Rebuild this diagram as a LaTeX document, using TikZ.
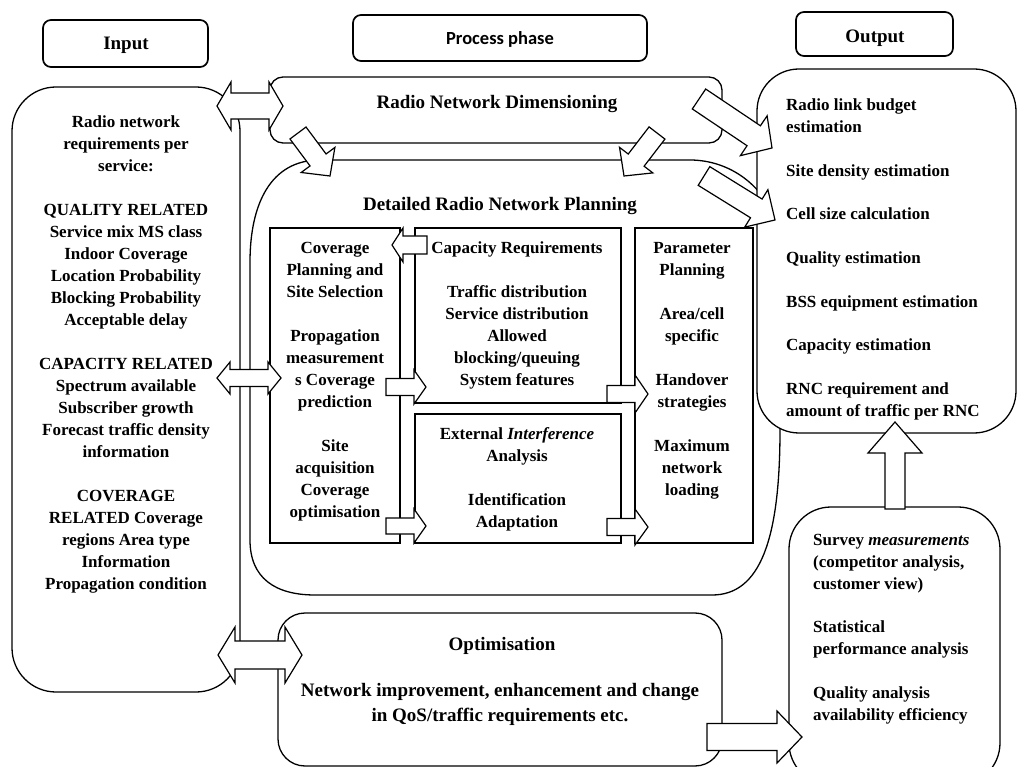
\documentclass[tikz,border=0pt]{standalone}
\usepackage{fontspec}
\setmainfont{Liberation Serif}
\newfontfamily\carlitofont{Carlito}
\usetikzlibrary{calc}
\tikzset{
 box/.style={draw=black, fill=white, line width=1.3pt},
 hdr/.style={draw=black, fill=white, line width=1.7pt, rounded corners=8pt},
 blk/.style={draw=black, fill=white, line width=1.2pt},
 tc/.style={font=\fontsize{17}{22}\selectfont\bfseries, inner sep=0pt, align=center, anchor=north},
 tl/.style={font=\fontsize{17}{21.8}\selectfont\bfseries, inner sep=0pt, align=left, anchor=north west},
 th/.style={font=\fontsize{19}{25}\selectfont\bfseries, inner sep=0pt, anchor=base},
}
% single block arrow: start, end, shaft half width, head half width, head length
\newcommand{\blkarrow}[5]{%
  \coordinate (ah) at ($(#2)!#5!(#1)$);
  \draw[blk] ($(#1)!#3!90:(#2)$) -- ($(ah)!#3!90:(#2)$) -- ($(ah)!#4!90:(#2)$) -- (#2)
    -- ($(ah)!#4!-90:(#2)$) -- ($(ah)!#3!-90:(#2)$) -- ($(#1)!#3!-90:(#2)$) -- cycle;}
% double block arrow
\newcommand{\dblarrow}[5]{%
  \coordinate (ha) at ($(#1)!#5!(#2)$);
  \coordinate (hb) at ($(#2)!#5!(#1)$);
  \draw[blk] (#1) -- ($(ha)!#4!90:(#2)$) -- ($(ha)!#3!90:(#2)$) -- ($(hb)!#3!90:(#2)$)
    -- ($(hb)!#4!90:(#2)$) -- (#2) -- ($(hb)!#4!-90:(#2)$) -- ($(hb)!#3!-90:(#2)$)
    -- ($(ha)!#3!-90:(#2)$) -- ($(ha)!#4!-90:(#2)$) -- cycle;}

\begin{document}
\begin{tikzpicture}[x=1pt,y=-1pt]
\useasboundingbox (0,0) rectangle (1018,767);
\fill[white] (0,0) rectangle (1018,767);

% Detailed radio network planning box
\draw[box] (320,160) -- (690,160) .. controls (738,160) and (780,198) .. (780,250) -- (780,430)
  .. controls (780,540) and (760,595) .. (712,595) -- (315,595)
  .. controls (275,595) and (250,578) .. (250,540) -- (250,262)
  .. controls (250,205) and (270,160) .. (320,160) -- cycle;

% inner boxes
\draw[box] (270,228) rectangle (400,543);
\draw[box] (415,228) rectangle (621,403);
\draw[box] (415,414) rectangle (621,543);
\draw[box] (635,228) rectangle (753,543);

% main boxes
\draw[box, rounded corners=13pt] (270,77) rectangle (722,143);
\draw[box, rounded corners=44pt] (12,87) rectangle (240,692);
\draw[box, rounded corners=42pt] (757,69) rectangle (1016,433);
\draw[box, rounded corners=27pt] (278,613) rectangle (722,766);
\draw[box, rounded corners=42pt] (789,507) rectangle (1000,785);

% header boxes
\draw[hdr] (43,20) rectangle (208,67);
\draw[hdr] (353,15) rectangle (647,61);
\draw[hdr] (796,12) rectangle (953,56);

% arrow end points
\coordinate (inTopL) at (217,106);  \coordinate (rndL) at (283,106);
\coordinate (inMidL) at (217,378);  \coordinate (covL) at (281,378);
\coordinate (inBotL) at (218,655);  \coordinate (optL) at (302,655);
\coordinate (rndA) at (298,133);    \coordinate (detA) at (330,176);
\coordinate (rndB) at (657,133);    \coordinate (detB) at (624,176);
\coordinate (rndC) at (699,99);     \coordinate (outA) at (772,148);
\coordinate (detC) at (704,176);    \coordinate (outB) at (775,220);
\coordinate (capL) at (427,245);    \coordinate (covR) at (392,245);
\coordinate (covM) at (386,387);    \coordinate (capM) at (426,387);
\coordinate (covB) at (386,526);    \coordinate (extL) at (426,526);
\coordinate (capR) at (607,394);    \coordinate (parA) at (648,394);
\coordinate (extR) at (607,527);    \coordinate (parB) at (648,527);
\coordinate (optR) at (707,737);    \coordinate (survL) at (802,737);
\coordinate (survT) at (895,509);   \coordinate (outBot) at (895,422);

\dblarrow{inTopL}{rndL}{13pt}{24pt}{14pt}
\dblarrow{inMidL}{covL}{8.5pt}{16pt}{13pt}
\dblarrow{inBotL}{optL}{14pt}{28pt}{17pt}
\blkarrow{rndA}{detA}{10pt}{21pt}{20pt}
\blkarrow{rndB}{detB}{10pt}{21pt}{20pt}
\blkarrow{rndC}{outA}{12pt}{24pt}{22pt}
\blkarrow{detC}{outB}{11pt}{22pt}{22pt}
\blkarrow{capL}{covR}{9pt}{17pt}{11pt}
\blkarrow{covM}{capM}{8.5pt}{17pt}{12pt}
\blkarrow{covB}{extL}{8pt}{17pt}{12pt}
\blkarrow{capR}{parA}{8.5pt}{19pt}{13pt}
\blkarrow{extR}{parB}{8.5pt}{18pt}{13pt}
\blkarrow{optR}{survL}{13.5pt}{26pt}{25pt}
\blkarrow{survT}{outBot}{10pt}{27pt}{31pt}

% texts
\node[th] (inputlbl) at (126,50) {Input};
\node[font=\carlitofont\fontsize{18.5}{22}\selectfont\bfseries, inner sep=0pt, anchor=base] (proclbl) at (500,45) {Process phase};
\node[th] (outlbl) at (875,43) {Output};
\node[th] (rndlbl) at (497,109) {Radio Network Dimensioning};
\node[th] (detlbl) at (500,211) {Detailed Radio Network Planning};
\node[th] (optlbl) at (502,650) {Optimisation};
\node[th, align=center, anchor=north] (opttxt) at (500,683) {Network improvement, enhancement and change\\in QoS/traffic requirements etc.};

\node[tc] (intxt) at (126,116) {Radio network\\requirements per\\service:\\[22pt]QUALITY RELATED\\Service mix MS class\\Indoor Coverage\\Location Probability\\Blocking Probability\\Acceptable delay\\[22pt]CAPACITY RELATED\\Spectrum available\\Subscriber growth\\Forecast traffic density\\information\\[22pt]COVERAGE\\RELATED Coverage\\regions Area type\\Information\\Propagation condition};

\node[tc] (covtxt) at (335,242) {Coverage\\Planning and\\Site Selection\\[22pt]Propagation\\measurement\\s Coverage\\prediction\\[22pt]Site\\acquisition\\Coverage\\optimisation};
\node[tc] (captxt) at (517,242) {Capacity Requirements\\[22pt]Traffic distribution\\Service distribution\\Allowed\\blocking/queuing\\System features};
\node[tc] (exttxt) at (517,427) {External \textit{Interference}\\Analysis\\[22pt]Identification\\Adaptation};
\node[tc] (partxt) at (692,242) {Parameter\\Planning\\[22pt]Area/cell\\specific\\[22pt]Handover\\strategies\\[22pt]Maximum\\network\\loading};

\node[tl] (outtxt) at (786,99) {Radio link budget\\estimation\\[21.8pt]Site density estimation\\[21.8pt]Cell size calculation\\[21.8pt]Quality estimation\\[21.8pt]BSS equipment estimation\\[21.8pt]Capacity estimation\\[21.8pt]RNC requirement and\\amount of traffic per RNC};
\node[tl] (survtxt) at (813,534) {Survey \textit{measurements}\\(competitor analysis,\\customer view)\\[22pt]Statistical\\performance analysis\\[22pt]Quality analysis\\availability efficiency};
\end{tikzpicture}
\end{document}
